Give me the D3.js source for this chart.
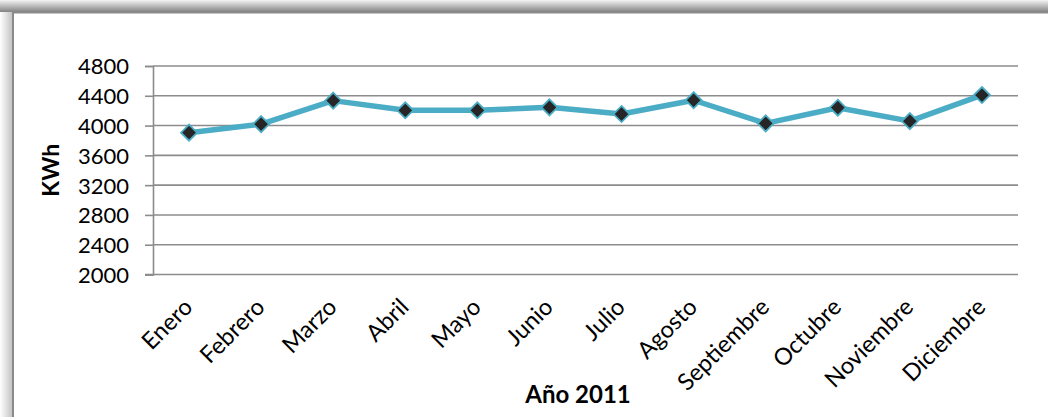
<!DOCTYPE html>
<html>
<head>
<meta charset="utf-8">
<script src="https://cdn.jsdelivr.net/npm/d3@7"></script>
<style>
  html, body { margin: 0; padding: 0; background: #fff; }
  svg { display: block; }
  text { font-family: Lato, "Open Sans", sans-serif; fill: #000; }
</style>
</head>
<body>
<div id="chart"></div>
<script>
// Monthly consumption, year 2011
const months = ["Enero", "Febrero", "Marzo", "Abril", "Mayo", "Junio", "Julio",
                "Agosto", "Septiembre", "Octubre", "Noviembre", "Diciembre"];
const kwh = [3905, 4020, 4335, 4205, 4205, 4245, 4155, 4340, 4030, 4240, 4060, 4410];
const yTicks = [2000, 2400, 2800, 3200, 3600, 4000, 4400, 4800];
const yLabel = "KWh";
const xLabel = "Año 2011";

const W = 1048, H = 417;
const plot = { left: 153, right: 1018, top: 66, bottom: 274.5 };

const svg = d3.select("#chart").append("svg")
  .attr("width", W).attr("height", H);

// Frame with a soft shadow along its top and left edges
const defs = svg.append("defs");
const gTop = defs.append("linearGradient").attr("id", "shTop")
  .attr("x1", 0).attr("y1", 0).attr("x2", 0).attr("y2", 1);
gTop.append("stop").attr("offset", "0%").attr("stop-color", "#f4f4f4");
gTop.append("stop").attr("offset", "100%").attr("stop-color", "#828282");
const gLeft = defs.append("linearGradient").attr("id", "shLeft")
  .attr("x1", 0).attr("y1", 0).attr("x2", 1).attr("y2", 0);
gLeft.append("stop").attr("offset", "0%").attr("stop-color", "#ffffff");
gLeft.append("stop").attr("offset", "100%").attr("stop-color", "#c4c4c4");

svg.append("rect").attr("x", 0).attr("y", 0).attr("width", W).attr("height", 12)
  .attr("fill", "url(#shTop)");
svg.append("rect").attr("x", 0).attr("y", 12).attr("width", 12).attr("height", H - 12)
  .attr("fill", "url(#shLeft)");
svg.append("rect").attr("x", 13).attr("y", 12.5).attr("width", W).attr("height", H)
  .attr("fill", "#fff").attr("stroke", "#8a8a8a").attr("stroke-width", 2);

// Scales
const x = d3.scaleBand().domain(months).range([plot.left, plot.right]);
const y = d3.scaleLinear().domain([2000, 4800]).range([plot.bottom, plot.top]);

// Horizontal gridlines
svg.append("g").selectAll("line").data(yTicks.slice(1)).join("line")
  .attr("x1", plot.left).attr("x2", plot.right)
  .attr("y1", d => y(d)).attr("y2", d => y(d))
  .attr("stroke", "#8c8c8c").attr("stroke-width", 1.6);

// Y axis
const yAxis = svg.append("g").attr("transform", `translate(${plot.left},0)`)
  .call(d3.axisLeft(y).tickValues(yTicks).tickSize(8).tickPadding(16).tickFormat(d3.format("d")));
yAxis.select(".domain").attr("stroke", "#8c8c8c").attr("stroke-width", 1.6);
yAxis.selectAll(".tick line").attr("stroke", "#8c8c8c").attr("stroke-width", 1.6);
yAxis.selectAll(".tick text").style("font-family", "Lato, sans-serif")
  .style("font-size", "22px").attr("fill", "#000").attr("dy", "0.36em");

// X axis
const xAxis = svg.append("g").attr("transform", `translate(0,${plot.bottom})`)
  .call(d3.axisBottom(x).tickSize(0).tickPadding(0));
xAxis.select(".domain").attr("stroke", "#8c8c8c").attr("stroke-width", 1.6)
  .attr("d", `M${plot.left - 8},0H${plot.right}`);
xAxis.selectAll(".tick text")
  .style("font-family", "Lato, sans-serif").style("font-size", "23.5px").attr("fill", "#000")
  .attr("text-anchor", "end")
  .attr("dy", 0).attr("y", 0)
  .attr("transform", "translate(5,34) rotate(-45)");

// Series line
const cx = d => x(d) + x.bandwidth() / 2;
const line = d3.line().x((d, i) => cx(months[i])).y(d => y(d));
svg.append("path").datum(kwh).attr("d", line)
  .attr("fill", "none").attr("stroke", "#4bacc6").attr("stroke-width", 5.5)
  .attr("stroke-linejoin", "round");

// Diamond markers
const diamond = d3.symbol().type(d3.symbolDiamond2).size(165);
svg.append("g").selectAll("path").data(kwh).join("path")
  .attr("d", diamond)
  .attr("transform", (d, i) => `translate(${cx(months[i])},${y(d)})`)
  .attr("fill", "#262626").attr("stroke", "#4bacc6").attr("stroke-width", 1.8);

// Axis titles
svg.append("text").text(yLabel)
  .attr("transform", `translate(51,${(plot.top + plot.bottom) / 2}) rotate(-90)`)
  .attr("text-anchor", "middle").attr("dy", "0.35em")
  .style("font-size", "23px").style("font-weight", "bold");
svg.append("text").text(xLabel)
  .attr("x", 578).attr("y", 403)
  .attr("text-anchor", "middle")
  .style("font-size", "24px").style("font-weight", "bold");
</script>
</body>
</html>
